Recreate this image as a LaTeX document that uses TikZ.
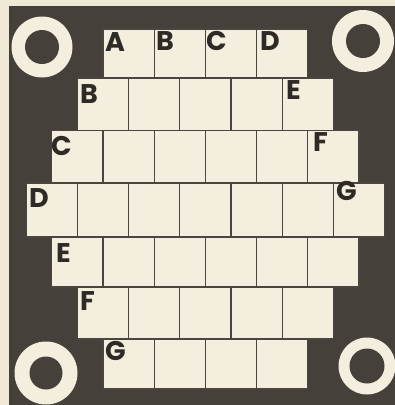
\documentclass[tikz,border=0pt]{standalone}
\usepackage{fontspec}
\newfontfamily\lblfont{Poppins}
\definecolor{paper}{HTML}{EFE9D6}
\definecolor{board}{HTML}{45403A}
\definecolor{cellc}{HTML}{F3EEDD}
\definecolor{sep}{HTML}{4A4540}
\definecolor{ink}{HTML}{2E2A26}
\tikzset{
  cellbox/.style={fill=cellc, draw=sep, line width=1.2pt},
  ringout/.style={fill=cellc},
  ringin/.style={fill=board},
  lbl/.style={anchor=base west, inner sep=0pt, text=ink, font=\lblfont\bfseries\fontsize{27}{27}\selectfont},
}
\begin{document}
\begin{tikzpicture}[x=1pt,y=-1pt]
\useasboundingbox (0,0) rectangle (395,405);
\fill[paper] (0,0) rectangle (395,405);
\fill[board] (9,6) rectangle (395,405);
% rings
\fill[ringout] (42,47) circle (30.5);  \fill[ringin] (42,47) circle (17);
\fill[ringout] (363,41) circle (31);   \fill[ringin] (363,41) circle (17);
\fill[ringout] (46,373) circle (31.5); \fill[ringin] (46,373) circle (16.5);
\fill[ringout] (367,366) circle (28.5);\fill[ringin] (367,366) circle (17.5);
% cells: row = {count/top/bottom}
\def\cw{51.2}
\def\cx{205.3}
\foreach \n/\yt/\yb in {4/29/78, 5/78/130.5, 6/130.5/183, 7/183/237, 6/237/287, 5/287/339, 4/339/389}{
  \pgfmathsetmacro{\xs}{\cx-\n*\cw/2}
  \foreach \i in {1,...,\n}{
    \pgfmathsetmacro{\xa}{\xs+(\i-1)*\cw}
    \pgfmathsetmacro{\xb}{\xs+\i*\cw}
    \draw[cellbox] (\xa,\yt) rectangle (\xb,\yb);
  }
}
% labels
\node[lbl] (la)  at (105,51) {A};
\node[lbl] (lb1) at (156,50.5) {B};
\node[lbl] (lc1) at (206,50.5) {C};
\node[lbl] (ld1) at (260,50.5) {D};
\node[lbl] (lb2) at (80,103.5) {B};
\node[lbl] (le2) at (286,99.5) {E};
\node[lbl] (lc3) at (51,155.5) {C};
\node[lbl] (lf3) at (313,151.5) {F};
\node[lbl] (ld4) at (29,207.5) {D};
\node[lbl] (lg4) at (336,200.5) {G};
\node[lbl] (le5) at (56,262.5) {E};
\node[lbl] (lf6) at (80,310.5) {F};
\node[lbl] (lg7) at (105,360.5) {G};
\end{tikzpicture}
\end{document}
